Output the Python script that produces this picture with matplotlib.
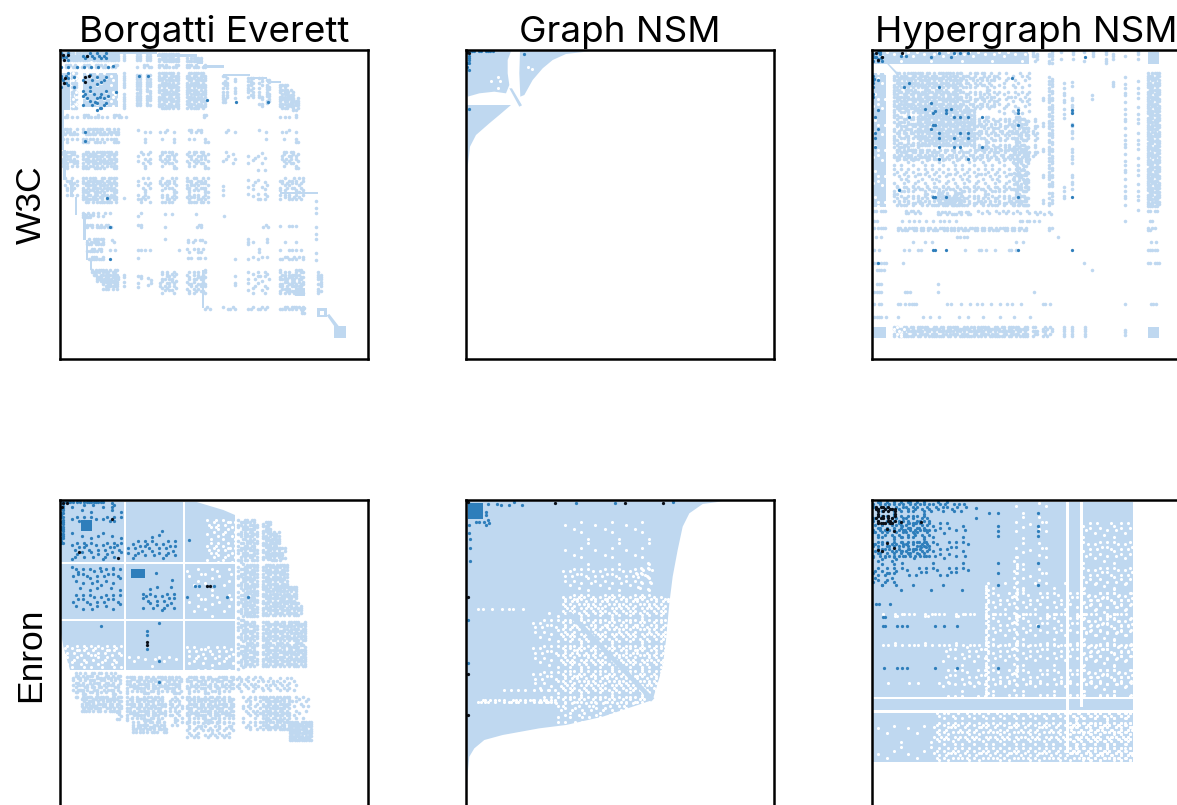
import numpy as np
import matplotlib
matplotlib.use("Agg")
import matplotlib.pyplot as plt

# All coordinates are matrix positions (3 units = 1 pixel).
COL_LIGHT = "#BFD8F0"
COL_MID = "#2E7EBB"
COL_DARK = "#0A0F18"
titles = ["Borgatti Everett", "Graph NSM", "Hypergraph NSM"]
rows = ["W3C", "Enron"]

# fixed speck order for the partly filled regions
SPECK = [[97, 12, 131, 58, 3, 110, 76, 23, 140, 41, 88, 6, 119],
         [34, 72, 21, 104, 139, 49, 9, 127, 63, 17, 101, 54, 80],
         [115, 1, 86, 44, 67, 28, 93, 36, 112, 79, 134, 26, 8],
         [52, 125, 60, 16, 122, 83, 143, 4, 70, 47, 11, 95, 38],
         [19, 91, 33, 137, 7, 56, 24, 106, 130, 31, 65, 117, 74],
         [128, 46, 108, 75, 40, 99, 66, 14, 50, 89, 141, 2, 57],
         [68, 5, 84, 29, 142, 13, 118, 78, 35, 123, 20, 102, 43],
         [100, 133, 22, 59, 94, 48, 32, 138, 61, 10, 73, 30, 126],
         [15, 62, 116, 39, 124, 82, 69, 18, 96, 109, 42, 85, 51],
         [77, 27, 92, 136, 0, 53, 113, 45, 129, 25, 121, 64, 103],
         [120, 37, 55, 81, 105, 135, 87, 71, 98, 107, 90, 132, 114]]

# ---- W3C / Borgatti Everett
a_solid = [(33, 60, 100, 210), (100, 320, 37, 42), (320, 440, 42, 50), (440, 460, 58, 72),
           (460, 522, 76, 84), (518, 600, 103, 109), (600, 650, 111, 118), (650, 692, 124, 130), (33, 42, 210, 330),
           (38, 48, 330, 420), (60, 68, 420, 470), (75, 82, 470, 525), (100, 107, 520, 600), (107, 115, 600, 660),
           (120, 127, 660, 690), (690, 803, 456, 463), (455, 461, 690, 803), (735, 765, 745, 768),
           (800, 830, 805, 832), (852, 888, 858, 893), (33, 205, 38, 60), (98, 205, 100, 200)]
a_poly = [[(830, 826), (838, 822), (866, 858), (858, 866)]]
a_white = [(810, 822, 813, 824), (60, 98, 38, 44)]
a_light = [(125, 205, 690, 710, 8), (140, 205, 710, 725, 8), (160, 205, 725, 748, 8),
           (98, 205, 40, 65, 9), (33, 95, 40, 62, 8), (222, 228, 40, 65, 8), (262, 275, 40, 65, 9), (292, 305, 40, 65, 9),
           (328, 385, 42, 65, 9), (410, 455, 55, 68, 9), (33, 205, 75, 85, 7), (222, 228, 75, 85, 7), (262, 305, 75, 85, 5),
           (328, 385, 75, 85, 7), (410, 470, 75, 85, 7), (222, 228, 100, 205, 7), (262, 275, 104, 200, 9), (292, 305, 104, 200, 9),
           (328, 385, 100, 205, 8), (410, 470, 100, 205, 8),
           (518, 535, 108, 190, 6), (555, 560, 110, 190, 4), (595, 612, 115, 175, 7), (628, 635, 115, 205, 5), (650, 660, 120, 190, 7),
           (690, 715, 135, 205, 8), (715, 730, 150, 205, 8), (730, 745, 175, 210, 8), (65, 85, 100, 205, 7),
           (38, 230, 225, 232, 6), (455, 475, 225, 232, 6), (690, 745, 225, 232, 4),
           (38, 85, 268, 282, 6), (100, 205, 268, 282, 7), (265, 305, 270, 280, 3), (330, 380, 270, 282, 3), (410, 460, 270, 282, 4),
           (520, 555, 270, 282, 2), (628, 660, 270, 282, 2), (695, 750, 270, 282, 3),
           (38, 85, 298, 310, 6), (100, 205, 298, 310, 7), (265, 305, 298, 310, 3), (330, 380, 298, 310, 3), (410, 475, 298, 310, 4),
           (628, 660, 298, 310, 2), (695, 750, 298, 310, 4),
           (38, 85, 335, 390, 6), (100, 200, 335, 390, 7), (265, 305, 335, 390, 3), (330, 385, 335, 390, 4), (410, 475, 335, 390, 4),
           (520, 555, 335, 390, 1.5), (595, 660, 340, 390, 1.5), (695, 750, 335, 390, 4),
           (45, 85, 415, 470, 4), (100, 200, 415, 485, 7), (222, 228, 460, 480, 5), (265, 305, 415, 485, 3), (330, 385, 415, 485, 4),
           (410, 475, 415, 485, 5), (520, 525, 430, 470, 3), (595, 660, 420, 480, 2), (690, 760, 415, 480, 4),
           (798, 804, 470, 670, 4), (805, 812, 690, 765, 7),
           (100, 130, 518, 532, 8), (145, 185, 520, 528, 4), (265, 272, 520, 528, 5), (330, 380, 522, 528, 3), (425, 455, 522, 528, 3), (515, 525, 520, 530, 5),
           (105, 185, 555, 563, 6), (265, 272, 555, 563, 6), (345, 350, 555, 563, 6), (440, 460, 555, 563, 6), (640, 660, 555, 563, 5), (690, 740, 558, 563, 3),
           (110, 165, 598, 612, 8), (185, 205, 600, 608, 4), (330, 360, 598, 604, 3), (415, 465, 600, 612, 4), (595, 610, 598, 612, 5), (650, 660, 598, 606, 5), (690, 750, 605, 610, 3),
           (112, 165, 626, 636, 7), (180, 195, 630, 636, 5), (265, 305, 630, 636, 4), (380, 390, 630, 636, 6), (410, 465, 628, 636, 4), (620, 630, 628, 636, 6), (690, 755, 630, 636, 5),
           (118, 160, 650, 660, 7), (265, 305, 655, 660, 3), (360, 390, 655, 660, 3), (415, 475, 655, 660, 5), (555, 560, 650, 660, 6), (595, 660, 650, 660, 3), (690, 760, 650, 660, 5),
           (222, 228, 690, 745, 5), (265, 275, 700, 745, 3), (295, 305, 700, 745, 3), (330, 385, 695, 760, 4), (410, 470, 690, 765, 4),
           (555, 560, 700, 740, 5), (595, 660, 695, 760, 2), (690, 765, 690, 765, 6),
           (465, 480, 800, 808, 6), (520, 560, 800, 808, 4), (595, 660, 800, 808, 4), (690, 760, 800, 812, 7), (755, 765, 805, 820, 7)]
a_holes = [(70, 96, 100, 205, 2), (33, 205, 66, 72, 0), (98, 205, 100, 200, 1.5)]
a_mid_s = [(33, 60, 38, 65, 4), (33, 60, 100, 150, 3), (98, 175, 105, 210, 1.5), (33, 175, 75, 82, 2), (98, 170, 40, 60, 3)]
a_mid = [(470, 180), (557, 186), (655, 186), (172, 475), (180, 560), (180, 658), (105, 275), (105, 303), (268, 108), (295, 108),
         (150, 170), (135, 185), (150, 205), (198, 155), (72, 112), (72, 140), (190, 78)]
a_black = [(42, 60), (40, 45), (105, 125), (118, 108), (45, 115), (110, 48), (55, 45), (105, 112), (42, 130)]

# ---- W3C / Graph NSM
b_solid = [(33, 42, 40, 120)]
b_poly = [[(33, 34), (165, 34), (155, 60), (155, 100), (160, 135), (150, 160), (115, 155), (70, 160), (35, 170)],
          [(192, 34), (400, 34), (330, 42), (290, 60), (260, 85), (230, 120), (205, 165), (193, 170), (190, 100)],
          [(33, 195), (165, 195), (130, 225), (100, 250), (60, 285), (42, 320), (35, 380), (33, 420)],
          [(160, 145), (168, 145), (198, 196), (190, 200)]]
b_white = []
b_light = []
b_holes = [(90, 140, 110, 150, 1), (215, 240, 80, 100, 1)]
b_mid_s = [(33, 110, 34, 40, 8), (33, 40, 40, 95, 6)]
b_mid = [(205, 42), (38, 208)]
b_black = [(34, 36), (38, 38)]

# ---- W3C / Hypergraph NSM
c_solid = [(36, 505, 35, 72), (36, 75, 100, 500), (860, 895, 35, 72), (36, 75, 860, 893), (860, 895, 860, 893)]
c_poly = [[(75, 68), (80, 68), (110, 98), (105, 102)]]
c_white = []
c_light = [(515, 530, 35, 72, 6), (565, 575, 35, 72, 7), (600, 605, 35, 60, 5), (635, 640, 35, 60, 5), (670, 675, 35, 72, 6),
           (695, 700, 35, 72, 5), (735, 740, 35, 72, 5), (755, 760, 35, 72, 5), (793, 798, 35, 60, 6), (832, 837, 35, 60, 6),
           (100, 300, 100, 210, 7), (300, 400, 100, 210, 4), (400, 505, 100, 230, 2), (100, 170, 210, 330, 5), (170, 340, 210, 320, 8),
           (340, 505, 230, 330, 4), (100, 230, 330, 360, 6), (230, 505, 330, 360, 4), (100, 505, 360, 440, 2), (460, 505, 230, 500, 5),
           (100, 505, 440, 500, 4), (230, 300, 460, 500, 7), (860, 895, 100, 500, 8), (515, 530, 230, 350, 4), (565, 575, 110, 440, 7),
           (545, 550, 110, 500, 3), (565, 575, 460, 500, 6), (610, 615, 130, 240, 4), (610, 615, 440, 480, 5), (633, 638, 125, 480, 4),
           (693, 698, 150, 180, 6), (693, 698, 290, 510, 2), (755, 760, 125, 150, 5), (793, 798, 110, 500, 3), (832, 837, 110, 520, 2),
           (38, 75, 512, 516, 6), (135, 180, 512, 522, 5), (230, 330, 515, 522, 5), (350, 505, 512, 522, 3), (515, 575, 515, 522, 3),
           (860, 890, 512, 518, 6), (40, 50, 543, 547, 8), (110, 300, 543, 547, 3), (470, 545, 543, 547, 6), (793, 798, 543, 547, 8), (860, 885, 543, 547, 6),
           (38, 75, 565, 570, 9), (110, 500, 563, 570, 6), (565, 575, 563, 570, 8), (860, 885, 563, 570, 7),
           (45, 60, 590, 594, 6), (275, 330, 590, 594, 5), (590, 600, 590, 594, 9), (135, 240, 606, 610, 3), (450, 485, 606, 610, 5), (870, 890, 606, 610, 7),
           (40, 70, 630, 634, 5), (130, 180, 630, 634, 5), (290, 480, 630, 634, 2), (860, 895, 630, 634, 9),
           (40, 75, 668, 672, 6), (125, 130, 668, 672, 8), (670, 675, 668, 672, 8), (860, 895, 668, 672, 8),
           (40, 70, 690, 694, 8), (165, 185, 690, 694, 6), (300, 520, 690, 694, 2), (693, 698, 690, 694, 8),
           (40, 75, 733, 737, 6), (230, 236, 733, 737, 8), (40, 65, 755, 759, 9), (125, 155, 755, 759, 6), (232, 238, 755, 759, 8), (518, 522, 755, 759, 8),
           (40, 65, 792, 796, 9), (110, 170, 792, 796, 7), (250, 490, 792, 796, 3), (545, 570, 792, 796, 6), (793, 798, 792, 796, 8), (870, 885, 792, 796, 8),
           (40, 75, 830, 834, 7), (105, 115, 830, 834, 8), (185, 240, 830, 834, 4), (280, 330, 830, 834, 4), (360, 530, 830, 834, 2),
           (100, 505, 860, 893, 7), (515, 530, 860, 893, 5), (545, 575, 860, 893, 4), (610, 615, 860, 893, 7), (632, 637, 860, 893, 7), (672, 677, 860, 893, 7), (793, 798, 870, 885, 8)]
c_holes = [(36, 75, 100, 500, 1), (36, 505, 35, 72, 1), (36, 75, 860, 893, 0), (100, 130, 860, 893, 3)]
c_mid_s = [(36, 70, 36, 66, 4), (36, 40, 100, 170, 5)]
c_mid = [(128, 142), (145, 128), (233, 142), (452, 115), (52, 120), (40, 118), (52, 210), (143, 232), (193, 208), (210, 190), (215, 220), (222, 212),
         (255, 210), (255, 220), (270, 208), (280, 232), (298, 232), (322, 232), (362, 232), (472, 210), (472, 220), (472, 255), (632, 210), (632, 220),
         (632, 255), (215, 255), (222, 255), (210, 268), (233, 278), (233, 295), (280, 295), (298, 278), (322, 278), (322, 295), (233, 320), (280, 320),
         (298, 320), (362, 320), (233, 358), (322, 358), (52, 268), (42, 232), (42, 280), (42, 295), (42, 322), (115, 450), (215, 470), (222, 470), (255, 470),
         (472, 470), (632, 470), (215, 630), (222, 630), (255, 630), (472, 630), (632, 630), (52, 670), (120, 48), (135, 48), (210, 50), (270, 50), (233, 40),
         (280, 40), (298, 40), (322, 40), (672, 50), (45, 50), (60, 55)]
c_black = [(50, 60), (45, 40), (62, 52), (122, 38)]

# ---- Enron / Borgatti Everett
d_solid = []
d_poly = [[(33, 36), (440, 36), (520, 60), (555, 75), (555, 540), (60, 540), (40, 470), (33, 430)],
          [(93, 90), (125, 90), (125, 122), (93, 122)], [(242, 238), (285, 238), (285, 265), (242, 265)]]
d_white = [(222, 229, 36, 540), (398, 405, 36, 540), (33, 555, 216, 222), (33, 555, 386, 393), (555, 562, 75, 540)]
d_light = [(565, 580, 90, 540, 5), (585, 625, 90, 210, 7), (585, 625, 225, 380, 8), (585, 625, 395, 530, 7), (640, 665, 95, 210, 8), (665, 690, 125, 210, 8),
           (690, 710, 175, 210, 6), (640, 715, 225, 290, 8), (640, 740, 290, 340, 8), (640, 755, 340, 380, 7), (640, 770, 395, 530, 7),
           (70, 215, 550, 620, 5), (232, 395, 560, 610, 6), (410, 550, 560, 610, 5), (560, 640, 560, 610, 3), (640, 740, 565, 600, 3),
           (95, 215, 620, 665, 6), (200, 215, 665, 690, 6), (232, 350, 620, 690, 6), (250, 350, 690, 725, 6), (360, 400, 620, 710, 4), (410, 550, 620, 700, 6), (410, 550, 700, 745, 3),
           (580, 630, 620, 720, 3), (640, 720, 620, 720, 7), (725, 780, 620, 690, 2), (80, 95, 600, 625, 5), (100, 140, 640, 655, 6),
           (720, 785, 695, 755, 9)]
d_holes = [(470, 555, 90, 220, 2), (45, 215, 460, 530, 2), (410, 555, 470, 540, 1.5), (230, 395, 500, 540, 1), (410, 555, 230, 385, 0.7)]
d_mid_s = [(33, 40, 40, 165, 8), (33, 160, 36, 42, 8), (60, 215, 45, 100, 1.2), (60, 215, 130, 210, 1.5), (235, 375, 140, 205, 1.5), (70, 215, 230, 360, 1.3), (280, 375, 290, 360, 1.5)]
d_mid = [(65, 232), (85, 245), (150, 235), (190, 235), (318, 250), (365, 270), (435, 287), (447, 287), (492, 287), (410, 320), (530, 320), (593, 320),
         (152, 407), (327, 400), (292, 422), (292, 435), (292, 478), (327, 513), (327, 575), (418, 150), (337, 122), (328, 135), (185, 40), (185, 50)]
d_black = [(185, 88), (87, 185), (205, 203), (470, 287), (480, 287), (292, 455), (292, 465), (40, 40), (50, 40), (36, 50)]

# ---- Enron / Graph NSM
e_solid = []
e_poly = [[(32, 34), (800, 34), (740, 42), (700, 70), (680, 110), (665, 180), (650, 260), (640, 340), (630, 450), (620, 530), (590, 630), (500, 660),
           (440, 680), (330, 705), (250, 715), (140, 735), (85, 750), (55, 775), (40, 800), (34, 860), (31, 945)]]
e_white = []
e_light = []
e_holes = [(320, 590, 90, 230, 0.4), (320, 590, 230, 320, 1.2), (320, 640, 320, 640, 3), (230, 320, 370, 640, 1.2), (300, 590, 640, 700, 2),
           (60, 300, 630, 637, 4), (60, 220, 358, 362, 3), (130, 300, 600, 606, 3), (90, 220, 458, 462, 2), (540, 590, 220, 300, 1.5)]
e_diag = [[(330, 370), (345, 365), (595, 625), (585, 635)]]
e_mid_s = []
e_mid = [(95, 42), (122, 42), (135, 45), (160, 45), (198, 45), (175, 36), (360, 38), (478, 38), (650, 36), (100, 100), (90, 105), (60, 95), (40, 105),
         (90, 65), (90, 75), (42, 148), (38, 130), (42, 175), (42, 212), (36, 390), (36, 520), (70, 95), (85, 95), (95, 90)]
e_black = [(298, 38), (508, 38), (620, 38), (36, 322), (36, 552), (36, 676), (36, 36)]
e_block = [[(36, 40), (80, 40), (80, 88), (36, 88)]]

# ---- Enron / Hypergraph NSM
f_solid = [(36, 815, 36, 815)]
f_poly = []
f_white = [(614, 625, 36, 790), (657, 665, 36, 650), (36, 815, 620, 628), (36, 815, 660, 668)]
f_light = []
f_holes = [(220, 815, 670, 815, 2.5), (36, 220, 700, 815, 0.3), (375, 815, 280, 620, 1), (60, 815, 372, 381, 4), (60, 815, 458, 470, 3), (60, 815, 580, 586, 2.5),
           (375, 385, 280, 610, 5), (460, 470, 200, 600, 3), (660, 815, 100, 620, 1.2), (660, 815, 670, 815, 3), (465, 560, 40, 300, 0.6), (240, 375, 470, 620, 1), (630, 657, 670, 790, 3)]
f_mid_s = [(36, 210, 36, 200, 3.5), (210, 320, 36, 70, 2.5), (36, 110, 200, 290, 2), (110, 320, 100, 260, 1), (36, 320, 285, 312, 0.9)]
f_mid = [(345, 55), (383, 68), (410, 68), (530, 68), (410, 108), (410, 122), (410, 138), (530, 108), (530, 122), (530, 138), (345, 85), (410, 220), (530, 220),
         (410, 248), (410, 286), (530, 286), (45, 343), (55, 343), (88, 343), (65, 382), (72, 382), (65, 408), (72, 408), (108, 408), (122, 408), (138, 408), (223, 408),
         (250, 408), (288, 408), (530, 408), (70, 533), (108, 533), (122, 533), (138, 533), (223, 533), (288, 533), (410, 533)]
f_black_s = [(45, 105, 50, 100, 5), (36, 110, 110, 190, 0.5)]
f_black = [(180, 96), (62, 182), (120, 96)]

PANELS = [
    dict(x0=30, solid=a_solid, poly=a_poly, white=a_white, light=a_light, holes=a_holes, mid_s=a_mid_s, mid=a_mid, black=a_black),
    dict(x0=30, solid=b_solid, poly=b_poly, white=b_white, light=b_light, holes=b_holes, mid_s=b_mid_s, mid=b_mid, black=b_black),
    dict(x0=33, solid=c_solid, poly=c_poly, white=c_white, light=c_light, holes=c_holes, mid_s=c_mid_s, mid=c_mid, black=c_black),
    dict(x0=30, solid=d_solid, poly=d_poly, white=d_white, light=d_light, holes=d_holes, mid_s=d_mid_s, mid=d_mid, black=d_black),
    dict(x0=30, solid=e_solid, poly=e_poly, white=e_white, light=e_light, holes=e_holes, after=e_diag, block=e_block, mid_s=e_mid_s, mid=e_mid, black=e_black),
    dict(x0=33, solid=f_solid, poly=f_poly, white=f_white, light=f_light, holes=f_holes, mid_s=f_mid_s, black_s=f_black_s, mid=f_mid, black=f_black),
]

AX_LEFT = [60, 466, 872]
AX_TOP = [50, 500]
AX_W, AX_H = 308, 309
W, H = 1177, 805
STEP = 7
plt.rcParams["font.family"] = ["Liberation Sans", "DejaVu Sans"]


def spots(regions):
    xs, ys = [], []
    for x0, x1, y0, y1, d in regions:
        for y in range(int(y0), int(y1) + 1, STEP):
            for x in range(int(x0), int(x1) + 1, STEP):
                if SPECK[(y // STEP) % 11][(x // STEP) % 13] <= d * 14.3:
                    xs.append(x)
                    ys.append(y)
    return xs, ys


def rect_fill(ax, rects, color, z):
    for x0, x1, y0, y1 in rects:
        ax.fill([x0, x1, x1, x0], [y0, y0, y1, y1], color=color, lw=0, zorder=z)


fig = plt.figure(figsize=(W / 100, H / 100), dpi=100, facecolor="white")
for k, p in enumerate(PANELS):
    col, row = k % 3, k // 3
    ax = fig.add_axes([AX_LEFT[col] / W, 1 - (AX_TOP[row] + AX_H) / H, AX_W / W, AX_H / H])
    ax.set_xlim(p["x0"], p["x0"] + 3 * AX_W)
    ax.set_ylim(30 + 3 * AX_H, 30)
    ax.set_xticks([])
    ax.set_yticks([])
    for s in ax.spines.values():
        s.set_linewidth(1.8)
        s.set_zorder(20)
    rect_fill(ax, p["solid"], COL_LIGHT, 1)
    for poly in p["poly"]:
        ax.fill(*zip(*poly), color=COL_LIGHT, lw=0, zorder=1)
    rect_fill(ax, p["white"], "white", 2)
    xs, ys = spots(p["light"])
    ax.scatter(xs, ys, s=6.5, c=COL_LIGHT, lw=0, zorder=3)
    xs, ys = spots(p["holes"])
    ax.scatter(xs, ys, s=5, c="white", lw=0, zorder=4)
    for poly in p.get("after", []):
        ax.fill(*zip(*poly), color=COL_LIGHT, lw=0, zorder=5)
    for poly in p.get("block", []):
        ax.fill(*zip(*poly), color=COL_MID, lw=0, zorder=5)
    if k == 3:
        for poly in p["poly"][1:]:
            ax.fill(*zip(*poly), color=COL_MID, lw=0, zorder=5)
    xs, ys = spots(p["mid_s"])
    ax.scatter(xs, ys, s=5.5, c=COL_MID, lw=0, zorder=6)
    if p["mid"]:
        ax.scatter(*zip(*p["mid"]), s=5.5, c=COL_MID, lw=0, zorder=7)
    xs, ys = spots(p.get("black_s", []))
    ax.scatter(xs, ys, s=5.5, c=COL_DARK, lw=0, zorder=8)
    if p["black"]:
        ax.scatter(*zip(*p["black"]), s=5.5, c=COL_DARK, lw=0, zorder=8)
    if row == 0:
        ax.set_title(titles[col], fontsize=26.5, pad=6, family=["Inter", "Liberation Sans"])
    if col == 0:
        ax.set_ylabel(rows[row], fontsize=25.5, labelpad=9)
fig.savefig("out.png", dpi=100)
